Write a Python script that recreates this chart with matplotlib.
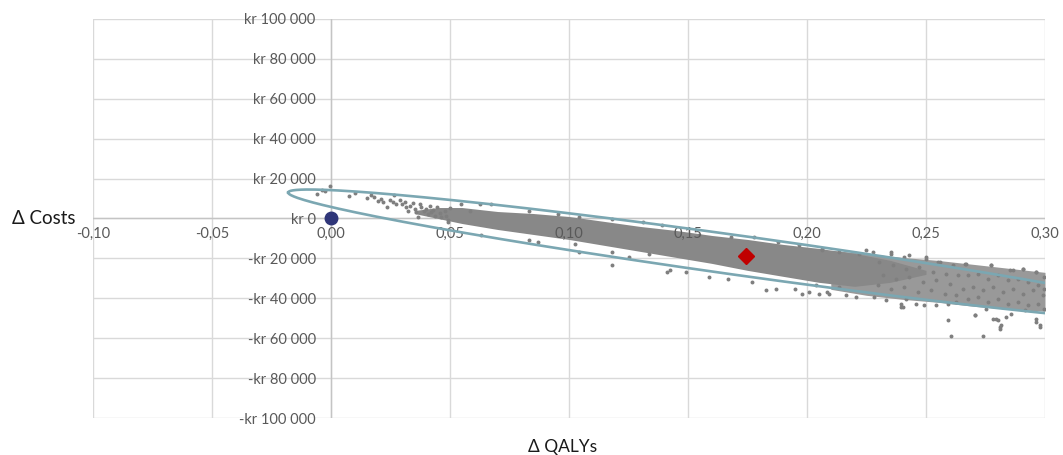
import matplotlib
matplotlib.use('Agg')
import matplotlib.pyplot as plt
from matplotlib.ticker import FuncFormatter
import numpy as np

# axis ranges / ticks
x_ticks = [-0.10, -0.05, 0.00, 0.05, 0.10, 0.15, 0.20, 0.25, 0.30]
y_ticks = [-100000, -80000, -60000, -40000, -20000, 0, 20000, 40000, 60000, 80000, 100000]

# dense core of the PSA cloud: qaly, upper cost, lower cost
core_x = [0.035, 0.045, 0.055, 0.07, 0.085, 0.10, 0.115, 0.13, 0.145, 0.16, 0.175, 0.19, 0.205, 0.22, 0.235, 0.25]
core_top = [4000, 5500, 5500, 3500, 2500, 1000, -1500, -4000, -6000, -8500, -10500, -13000, -15000, -17500, -21000, -26000]
core_bot = [2500, 0, -2500, -5500, -8000, -10500, -13500, -16500, -19500, -22500, -26000, -29000, -32000, -34000, -32000, -28000]

# thinner right part of the cloud
sparse_x = [0.21, 0.225, 0.24, 0.255, 0.27, 0.285, 0.30]
sparse_top = [-16000, -17500, -19500, -21000, -23000, -25000, -27000]
sparse_bot = [-35500, -38500, -40500, -42000, -44000, -45500, -46500]

# individual PSA points visible around the edges / in the thin part
psa_qaly = [
    -0.0059, -0.0039, -0.0024, -0.0004, 0.0077, 0.0101, 0.0152, 0.0166, 0.018, 0.0197,
    0.021, 0.0218, 0.0236, 0.0246, 0.0264, 0.026, 0.0274, 0.0288, 0.0298, 0.0309,
    0.0316, 0.0323, 0.0334, 0.0344, 0.0351, 0.0358, 0.0365, 0.0372, 0.0379, 0.039,
    0.04, 0.0407, 0.0414, 0.0421, 0.0428, 0.0435, 0.0447, 0.0456, 0.0463, 0.0477,
    0.0484, 0.0492, 0.0498, 0.0548, 0.0582, 0.0624, 0.0492,
    0.0674, 0.083, 0.0955, 0.104, 0.118, 0.131, 0.0632, 0.083, 0.0871, 0.1025,
    0.104, 0.118, 0.125, 0.1335, 0.118, 0.141, 0.1426,
    0.139, 0.1545, 0.168, 0.1777, 0.188, 0.1967, 0.2065, 0.149, 0.1587, 0.167,
    0.177, 0.1826, 0.187, 0.195, 0.198, 0.2037, 0.2093, 0.2135,
    0.2009, 0.2051, 0.2086, 0.2163, 0.2205, 0.2283, 0.2065, 0.2135, 0.222, 0.2276,
    0.2247, 0.2353, 0.243, 0.25, 0.255, 0.267, 0.2774, 0.2852, 0.2908, 0.2964,
    0.2353, 0.2409, 0.25, 0.2557, 0.2613, 0.2304, 0.236, 0.2416, 0.2472, 0.2528,
    0.2585, 0.2634, 0.2318, 0.2374, 0.243, 0.2486, 0.2542, 0.2599, 0.2297, 0.2353,
    0.2409, 0.2465, 0.2521, 0.2578, 0.2627, 0.2332, 0.2395, 0.2416, 0.2458, 0.2493,
    0.2542, 0.2592, 0.2627, 0.2402,
    0.2662, 0.2774, 0.2866, 0.2908, 0.2964, 0.2995, 0.2676, 0.2718, 0.276, 0.2802,
    0.2845, 0.2887, 0.2929, 0.2971, 0.2995, 0.2655, 0.2697, 0.2739, 0.2781, 0.2823,
    0.2866, 0.2908, 0.295, 0.2992, 0.2676, 0.2718, 0.276, 0.2802, 0.2845, 0.2887,
    0.2929, 0.2971, 0.2995, 0.2704, 0.2753, 0.2837, 0.2858, 0.2915, 0.2964, 0.2978,
    0.2795, 0.2809,
    0.2592, 0.2606, 0.274, 0.281, 0.2817, 0.2978, 0.2964, 0.278, 0.2704, 0.2395, 0.2802,
]
psa_cost = [
    12300, 14300, 13700, 16500, 11500, 13000, 10300, 11700, 10700, 9000,
    9800, 8200, 5700, 9300, 12000, 8200, 7300, 9300, 7300, 8200,
    5700, 4000, 6500, 7700, 4800, 3200, 700, 7300, 5700, 4000,
    4800, 2300, 6500, 3200, 4300, 1500, 5700, 2700, 700, 4000,
    1500, -1000, 5300, 7300, 4000, 7500, -1800,
    7300, 4000, 2300, 700, -200, -1800, -8500, -11000, -11800, -12700,
    -16800, -16800, -19300, -17700, -23300, -26800, -26000,
    -3500, -8500, -9300, -9300, -11800, -13500, -15200, -26800, -29300, -30200,
    -31800, -36000, -35200, -35200, -37700, -33500, -37700, -34300,
    -36800, -37700, -36800, -38500, -39300, -39300, -16000, -16800, -17700, -16800,
    -16000, -17700, -18500, -19300, -21800, -22700, -23200, -25800, -25200, -26800,
    -16800, -19300, -20200, -21800, -23500, -21800, -23500, -25200, -24300, -26800,
    -27700, -28500, -28500, -30200, -29300, -31800, -31000, -32700, -33500, -35200,
    -34300, -36800, -36000, -37700, -38500, -41000, -42700, -40200, -42700, -43500,
    -43500, -42700, -41800, -44300,
    -22700, -23200, -26000, -25200, -26800, -29300, -28500, -27700, -30200, -28500,
    -31000, -30200, -31800, -33500, -35200, -35200, -34300, -36000, -34300, -36800,
    -35200, -37700, -36000, -38500, -40200, -39300, -41800, -40200, -42700, -41800,
    -43500, -42700, -45200, -48500, -45200, -49300, -47700, -46000, -50200, -53500,
    -50200, -54300,
    -51000, -59000, -59000, -55200, -53500, -54300, -51800, -50200, -48500, -44300, -51000,
]

# mean incremental result and the reference point (origin)
mean_qaly = [0.1745]
mean_cost = [-19000]
ref_qaly = [0.0]
ref_cost = [0]

# 95% ellipse: centre, x-extreme vertex offset, vertical half-height
ell_center = (0.1745, -19000)
ell_vertex = (-0.1925, 32000)
ell_half_height = 10000

plt.rcParams['font.family'] = ['Lato', 'DejaVu Sans']

fig = plt.figure(figsize=(10.63, 4.55), dpi=100)
ax = fig.add_axes([93 / 1063, 1 - 418 / 455, 952 / 1063, 399 / 455])

ax.set_xlim(-0.10, 0.30)
ax.set_ylim(-100000, 100000)
ax.set_xticks(x_ticks)
ax.set_yticks(y_ticks)

# gridlines drawn under everything, tick labels stay on top of the cloud
for xv in x_ticks:
    ax.axvline(xv, color='#d9d9d9', linewidth=1.0, zorder=0)
for yv in y_ticks:
    ax.axhline(yv, color='#d9d9d9', linewidth=1.0, zorder=0)
ax.axvline(0, color='#c4c4c4', linewidth=1.0, zorder=0.5)
ax.axhline(0, color='#c4c4c4', linewidth=1.0, zorder=0.5)

for s in ax.spines.values():
    s.set_visible(False)
ax.spines['left'].set_position(('data', 0))
ax.spines['bottom'].set_position(('data', 0))

ax.xaxis.set_major_formatter(FuncFormatter(lambda v, p: f'{v:.2f}'.replace('.', ',').replace('-0,00', '0,00')))
def kr(v, p):
    s = f'{abs(int(round(v))):,}'.replace(',', ' ')
    return ('-kr ' if v < 0 else 'kr ') + s
ax.yaxis.set_major_formatter(FuncFormatter(kr))
ax.tick_params(axis='both', length=0, labelsize=10.5, labelcolor='#595959')
ax.tick_params(axis='y', pad=11)
ax.tick_params(axis='x', pad=6)

# cloud
ax.fill_between(sparse_x, sparse_top, sparse_bot, color='#999999', linewidth=0, zorder=1)
ax.fill_between(core_x, core_top, core_bot, color='#888888', linewidth=0, zorder=1)
ax.scatter(psa_qaly, psa_cost, s=8, color='#7f7f7f', linewidths=0, zorder=1.5)

# ellipse
t = np.linspace(0, 2 * np.pi, 400)
ex = ell_center[0] + ell_vertex[0] * np.cos(t)
ey = ell_center[1] + ell_vertex[1] * np.cos(t) + ell_half_height * np.sin(t)
ax.plot(ex, ey, color='#7ba7b2', linewidth=1.9, zorder=2)

ax.plot(mean_qaly, mean_cost, marker='D', markersize=8, color='#c00000', linestyle='none', zorder=3)
ax.plot(ref_qaly, ref_cost, marker='o', markersize=9, color='#2f3679', linestyle='none', zorder=3,
        clip_on=False)

fig.text(76 / 1063, 1 - 218 / 455, 'Δ Costs', ha='right', va='center', fontsize=13.5, color='#1a1a1a')
fig.text(563 / 1063, 1 - 447 / 455, 'Δ QALYs', ha='center', va='center', fontsize=12.5, color='#1a1a1a')

fig.savefig('out.png', dpi=100)
